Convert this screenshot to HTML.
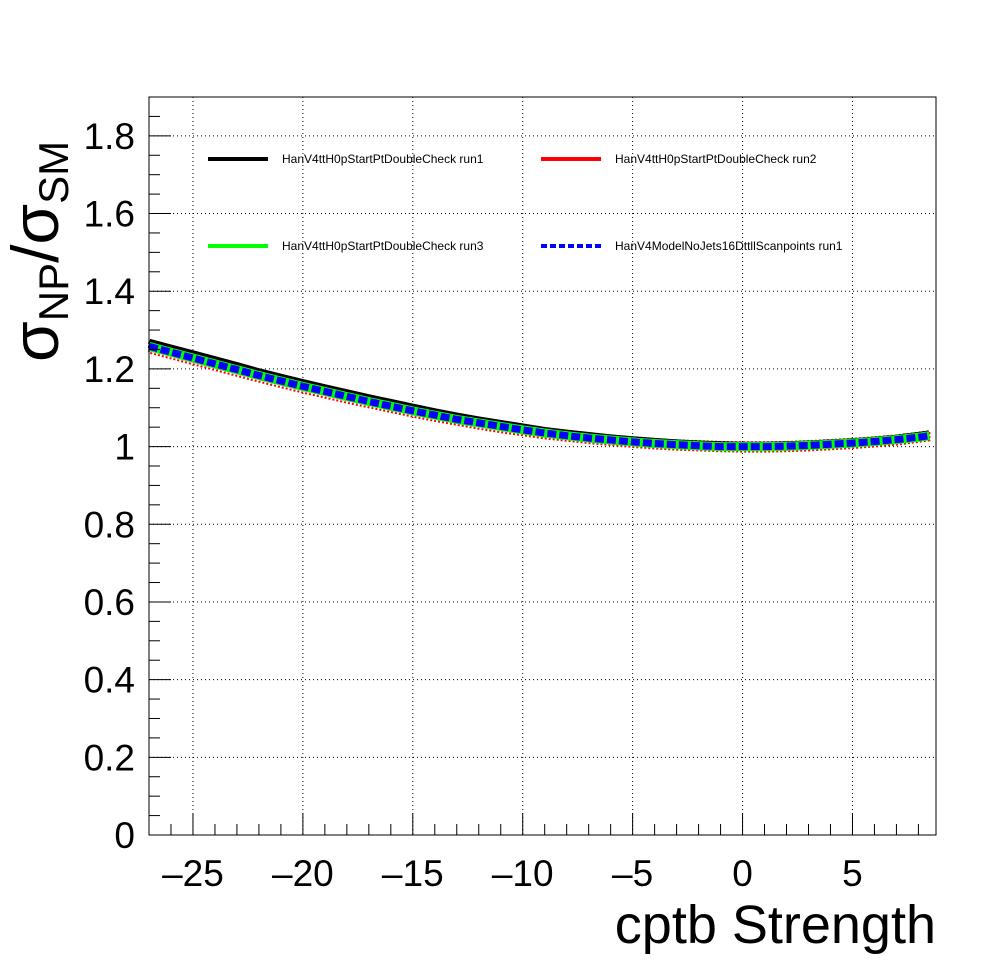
<!DOCTYPE html>
<html><head><meta charset="utf-8"><style>
body{margin:0;background:#fff}
text{font-family:"Liberation Sans",Arial,sans-serif}
</style></head><body>
<svg id="c" width="996" height="972" xmlns="http://www.w3.org/2000/svg">
<rect width="996" height="972" fill="#fff"/>
<g id="grid"></g>
<g id="series"></g>
<rect x="149" y="97" width="787" height="738" fill="none" stroke="#000" stroke-width="1"/>
<g id="axes"></g>
<g font-size="12">
<line x1="208" y1="159" x2="268" y2="159" stroke="#000" stroke-width="4"/>
<text x="282" y="163">HanV4ttH0pStartPtDoubleCheck run1</text>
<line x1="541" y1="159" x2="601" y2="159" stroke="#f00" stroke-width="4"/>
<text x="615" y="163">HanV4ttH0pStartPtDoubleCheck run2</text>
<line x1="208" y1="246" x2="268" y2="246" stroke="#0f0" stroke-width="4"/>
<text x="282" y="250">HanV4ttH0pStartPtDoubleCheck run3</text>
<line x1="541" y1="246" x2="601" y2="246" stroke="#00f" stroke-width="4" stroke-dasharray="6,3"/>
<text x="615" y="250">HanV4ModelNoJets16DttllScanpoints run1</text>
</g>
<text x="936" y="943" text-anchor="end" font-size="54">cptb Strength</text>
<g transform="translate(58,362) rotate(-90)">
<text font-size="66">σ<tspan font-size="42" dy="10">NP</tspan><tspan font-size="66" dy="-10">/σ</tspan><tspan font-size="42" dy="10">SM</tspan></text>
</g>
</svg>
<script>
const xVals=[-27,-26,-25,-24,-23,-22,-21,-20,-19,-18,-17,-16,-15,-14,-13,-12,-11,-10,-9,-8,-7,-6,-5,-4,-3,-2,-1,0,1,2,3,4,5,6,7,8,8.5];
const run1=[1.266,1.251,1.236,1.221,1.206,1.190,1.176,1.162,1.149,1.136,1.123,1.111,1.099,1.087,1.076,1.066,1.057,1.048,1.039,1.032,1.026,1.020,1.015,1.011,1.007,1.004,1.002,1.001,1.001,1.002,1.004,1.007,1.010,1.014,1.019,1.026,1.030];
const run2=[1.254,1.239,1.224,1.209,1.194,1.179,1.165,1.151,1.138,1.125,1.113,1.101,1.089,1.078,1.068,1.058,1.049,1.041,1.033,1.027,1.021,1.016,1.011,1.007,1.004,1.002,1.000,0.999,0.999,1.000,1.002,1.005,1.008,1.012,1.017,1.024,1.028];
const run3=[1.258,1.243,1.228,1.213,1.198,1.183,1.169,1.155,1.142,1.129,1.116,1.104,1.092,1.081,1.070,1.061,1.052,1.043,1.035,1.028,1.022,1.017,1.012,1.008,1.005,1.002,1.000,1.000,1.000,1.001,1.003,1.006,1.009,1.013,1.018,1.024,1.028];
const run4=[1.258,1.243,1.228,1.213,1.198,1.183,1.169,1.155,1.142,1.129,1.116,1.104,1.092,1.081,1.070,1.061,1.052,1.043,1.035,1.028,1.022,1.017,1.012,1.008,1.005,1.002,1.000,1.000,1.000,1.001,1.003,1.006,1.009,1.013,1.018,1.024,1.028];
const xTicks=[-25,-20,-15,-10,-5,0,5];
const yTicks=[0,0.2,0.4,0.6,0.8,1,1.2,1.4,1.6,1.8];
const X0=-27,X1=8.8,Y0=0,Y1=1.9,L=149,R=936,T=97,B=835;
const sx=v=>L+(v-X0)/(X1-X0)*(R-L);
const sy=v=>B-(v-Y0)/(Y1-Y0)*(B-T);
const NS="http://www.w3.org/2000/svg";
function mk(tag,attrs,parent){const e=document.createElementNS(NS,tag);for(const k in attrs)e.setAttribute(k,attrs[k]);parent.appendChild(e);return e;}
const grid=document.getElementById('grid'),axes=document.getElementById('axes'),ser=document.getElementById('series');
xTicks.forEach(t=>{
 const g=mk('line',{x1:sx(t),x2:sx(t),y1:T,y2:B,stroke:'#000','stroke-dasharray':'1,3'},grid);
 
 
 const tk=mk('line',{x1:sx(t),x2:sx(t),y1:B,y2:B-22,stroke:'#000'},axes);
 
 
 const lb=mk('text',{x:sx(t),y:B+51,'text-anchor':'middle','font-size':37},axes);
 lb.textContent=(t<0?'\u2013'+(-t):t);
 
 
});
for(let v=-27;v<=8;v++){if(v%5===0)continue;
 const m=mk('line',{x1:sx(v),x2:sx(v),y1:B,y2:B-11,stroke:'#000'},axes);
 
 
}
yTicks.forEach(t=>{
 if(t>0){const g=mk('line',{x1:L,x2:R,y1:sy(t),y2:sy(t),stroke:'#000','stroke-dasharray':'1,3'},grid);
 
 }
 const tk=mk('line',{x1:L,x2:L+22,y1:sy(t),y2:sy(t),stroke:'#000'},axes);
 
 
 const lb=mk('text',{x:L-14,y:sy(t)+13,'text-anchor':'end','font-size':37},axes);
 lb.textContent=String(t);
 
 
});
for(let i=1;i<38;i++){if(i%4===0)continue;const v=i*0.05;
 const m=mk('line',{x1:L,x2:L+11,y1:sy(v),y2:sy(v),stroke:'#000'},axes);
 
 
}
function pts(arr){return xVals.map((x,i)=>sx(x)+','+sy(arr[i])).join(' ');}
function band(arr,err){const up=xVals.map((x,i)=>sx(x)+','+sy(arr[i]+err));const dn=xVals.map((x,i)=>sx(x)+','+sy(arr[i]-err)).reverse();return up.concat(dn).join(' ');}
const rb=mk('polygon',{points:band(run2,0.012),fill:'none',stroke:'#f00','stroke-width':2,'stroke-dasharray':'2,2'},ser);


const s1=mk('polyline',{points:pts(run1),fill:'none',stroke:'#000','stroke-width':9},ser);


const s2=mk('polyline',{points:pts(run2),fill:'none',stroke:'#f00','stroke-width':6},ser);


const s3=mk('polyline',{points:pts(run3),fill:'none',stroke:'#0f0','stroke-width':9},ser);


const s4=mk('polyline',{points:pts(run4),fill:'none',stroke:'#00f','stroke-width':7,'stroke-dasharray':'9,3'},ser);


</script>
</body></html>
